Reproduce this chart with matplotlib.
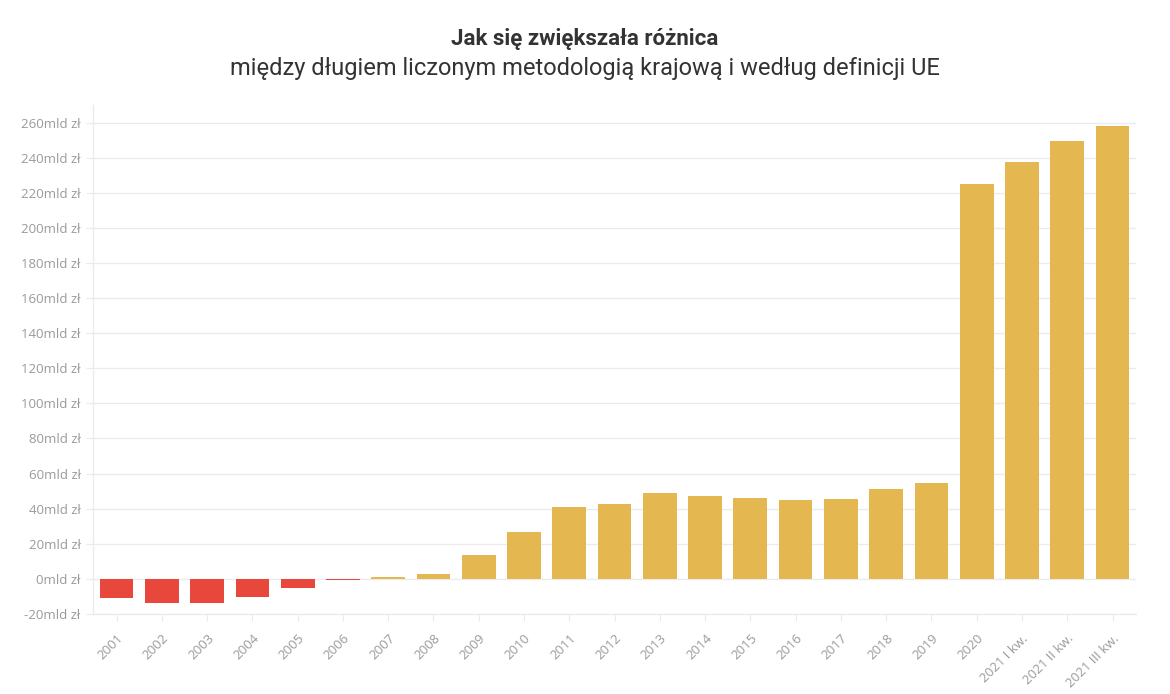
import matplotlib
matplotlib.use('Agg')
import matplotlib.pyplot as plt

# dane: różnica długu (mld zł)
LABELS = ['2001', '2002', '2003', '2004', '2005', '2006', '2007', '2008',
          '2009', '2010', '2011', '2012', '2013', '2014', '2015', '2016',
          '2017', '2018', '2019', '2020', '2021 I kw.', '2021 II kw.',
          '2021 III kw.']
VALUES = [-11.0, -13.7, -13.9, -10.4, -5.0, -0.8, 0.8, 2.9,
          13.7, 26.8, 41.0, 42.8, 49.0, 47.3, 46.2, 45.0,
          45.6, 51.3, 54.7, 224.8, 237.6, 249.6, 258.0]
Y_TICKS = list(range(-20, 261, 20))

RED = '#e8473b'
GOLD = '#e5b750'
GRID = '#ebebeb'
TXT = '#9a9a9a'

fig = plt.figure(figsize=(11.7, 6.94), dpi=100)
fig.patch.set_facecolor('white')
ax = fig.add_axes([0.0795, 0.1153, 0.8915, 0.7334])

colors = [RED if v < 0 else GOLD for v in VALUES]
x = list(range(len(LABELS)))
ax.bar(x, VALUES, width=0.745, color=colors, zorder=3)

ax.set_xlim(-0.52, len(LABELS) - 0.48)
ax.set_ylim(-20, 270)
ax.set_yticks(Y_TICKS)
ax.set_yticklabels([f'{v}mld zł' for v in Y_TICKS], fontsize=9.5,
                   color=TXT, family='Open Sans')
ax.set_xticks(x)
ax.set_xticklabels(LABELS, rotation=45, ha='right', rotation_mode='anchor',
                   fontsize=9.5, color=TXT, family='Open Sans')
ax.tick_params(axis='y', length=5, color=GRID, pad=4)
ax.tick_params(axis='x', length=5, color=GRID, pad=8)
ax.grid(axis='y', color=GRID, linewidth=1, zorder=0)
for side in ['top', 'right']:
    ax.spines[side].set_visible(False)
for side in ['left', 'bottom']:
    ax.spines[side].set_color(GRID)
    ax.spines[side].set_linewidth(1)

fig.text(0.5, 0.944, 'Jak się zwiększała różnica', ha='center', va='center',
         fontsize=16, fontweight='bold', color='#333333', family='Roboto')
fig.text(0.5, 0.901, 'między długiem liczonym metodologią krajową i według definicji UE',
         ha='center', va='center', fontsize=17, color='#333333', family='Roboto')

fig.savefig('out.png', dpi=100)
